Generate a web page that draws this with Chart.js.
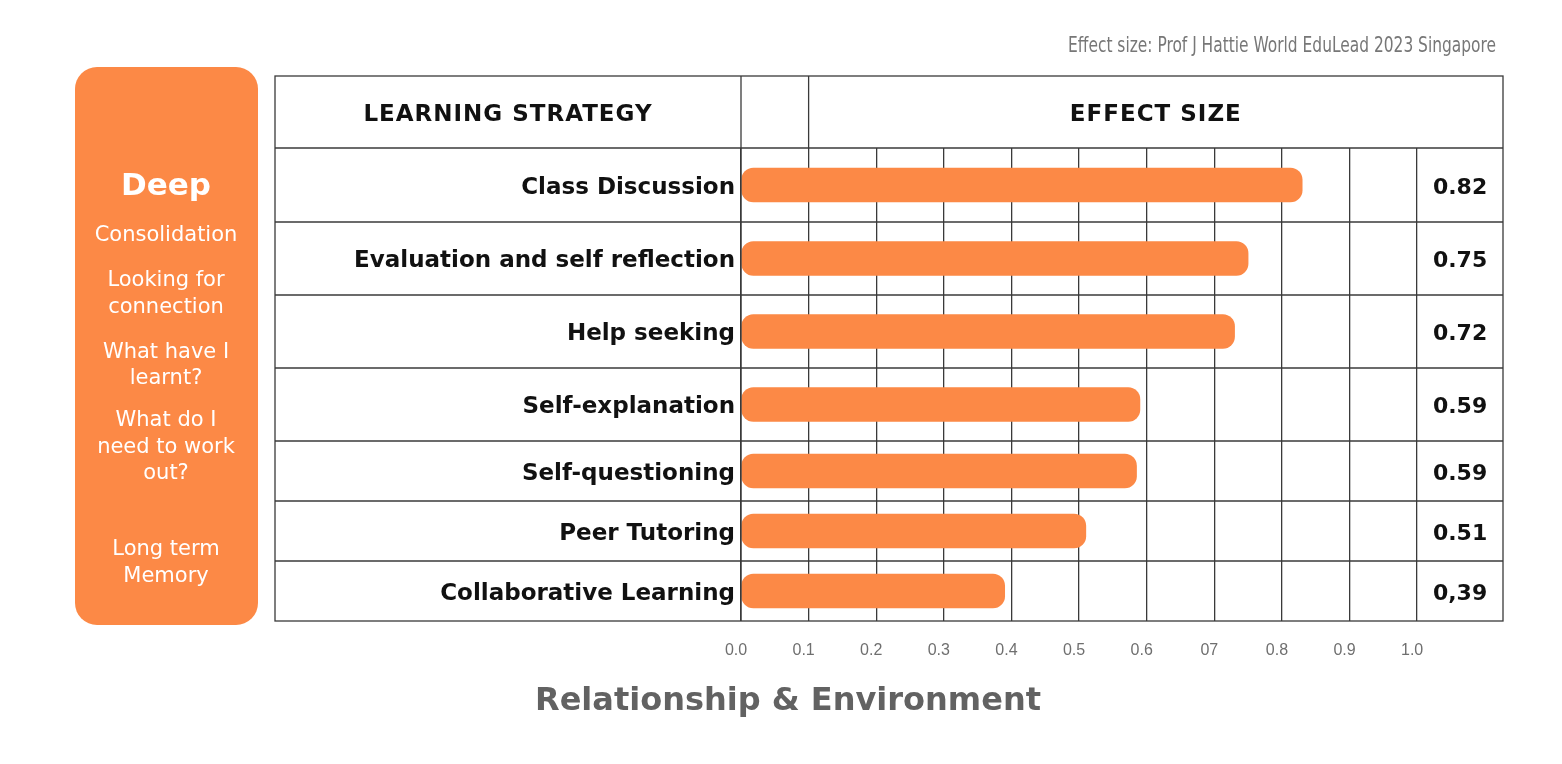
<!DOCTYPE html>
<html>
<head>
<meta charset="utf-8">
<title>Relationship &amp; Environment - effect sizes</title>
<script src="https://cdn.jsdelivr.net/npm/chart.js@4.4.1/dist/chart.umd.min.js"></script>
<style>
  html, body { margin: 0; padding: 0; background: #fff; }
  canvas { display: block; }
</style>
</head>
<body>
<canvas id="chart" width="1562" height="764"></canvas>
<script>
(function () {

    // data
    const strategies = [
        'Class Discussion',
        'Evaluation and self reflection',
        'Help seeking',
        'Self-explanation',
        'Self-questioning',
        'Peer Tutoring',
        'Collaborative Learning'
    ];
    const barLengths = [0.83, 0.75, 0.73, 0.59, 0.585, 0.51, 0.39];
    const effectLabels = ['0.82', '0.75', '0.72', '0.59', '0.59', '0.51', '0,39'];
    const tickLabels = ['0.0', '0.1', '0.2', '0.3', '0.4', '0.5', '0.6', '07', '0.8', '0.9', '1.0'];
    const sideTitle = 'Deep';
    const sideNotes = ['Consolidation', 'Looking for', 'connection', 'What have I', 'learnt?',
        'What do I', 'need to work', 'out?', 'Long term', 'Memory'];
    const source = 'Effect size: Prof J Hattie World EduLead 2023 Singapore';
    const footer = 'Relationship & Environment';

    // layout / style
    const orange = '#FC8946';
    const ink = '#111';
    const lineColor = '#3a3a3a';
    const font = '"DejaVu Sans", "Open Sans", sans-serif';
    const rowHeights = [74, 73, 73, 73, 60, 60, 60];
    const table = { left: 275, top: 76 };
    const xMax = 1.127;

    // category scale whose rows are not all the same height
    class RowScale extends Chart.CategoryScale {
        rowEdge(i) {
            const total = rowHeights.reduce((a, b) => a + b, 0);
            let before = 0;
            for (let k = 0; k < i; k++) before += rowHeights[k];
            return this.top + before / total * this.height;
        }
        getPixelForValue(value) {
            if (typeof value !== 'number') value = this.parse(value);
            if (value === null || isNaN(value)) return NaN;
            return (this.rowEdge(value) + this.rowEdge(value + 1)) / 2;
        }
    }
    RowScale.id = 'rows';
    Chart.register(RowScale);

    function line(ctx, x1, y1, x2, y2) {
        ctx.beginPath();
        ctx.moveTo(x1, y1);
        ctx.lineTo(x2, y2);
        ctx.stroke();
    }

    const tablePlugin = {
        id: 'tableFrame',
        beforeDraw(chart) {
            const ctx = chart.ctx;
            ctx.save();

            // side panel
            ctx.fillStyle = orange;
            ctx.beginPath();
            ctx.roundRect(75, 67, 183, 558, 22);
            ctx.fill();

            ctx.fillStyle = '#fff';
            ctx.textAlign = 'center';
            ctx.textBaseline = 'middle';
            ctx.font = 'bold 31px ' + font;
            ctx.fillText(sideTitle, 166, 187);
            ctx.font = '21px ' + font;
            const noteY = [236, 281, 308, 353, 379, 421, 448, 474, 550, 577];
            sideNotes.forEach((t, i) => ctx.fillText(t, 166, noteY[i], 172));

            // source note
            ctx.fillStyle = '#777';
            ctx.textAlign = 'right';
            ctx.font = '21px "Liberation Sans Narrow", "DejaVu Sans Condensed", sans-serif';
            ctx.fillText(source, 1496, 47, 428);

            // footer
            ctx.fillStyle = '#626262';
            ctx.textAlign = 'center';
            ctx.font = 'bold 32px ' + font;
            ctx.fillText(footer, 788, 702);

            ctx.restore();
        },
        afterDatasetsDraw(chart) {
            const ctx = chart.ctx;
            const area = chart.chartArea;
            const x = chart.scales.x;
            const y = chart.scales.y;
            ctx.save();
            ctx.strokeStyle = lineColor;
            ctx.lineWidth = 1.3;

            // outer frame and header
            ctx.strokeRect(table.left, table.top, area.right - table.left, area.bottom - table.top);
            line(ctx, table.left, area.top, area.right, area.top);
            line(ctx, area.left, table.top, area.left, area.bottom);
            line(ctx, x.getPixelForValue(0.1), table.top, x.getPixelForValue(0.1), area.top);

            // row separators
            for (let i = 1; i < strategies.length; i++) {
                const yy = y.rowEdge(i);
                line(ctx, table.left, yy, area.right, yy);
            }

            ctx.fillStyle = ink;
            ctx.textBaseline = 'middle';
            ctx.textAlign = 'center';
            ctx.font = 'bold 23px ' + font;
            ctx.letterSpacing = '1px';
            const headY = (table.top + area.top) / 2 + 3;
            ctx.fillText('LEARNING STRATEGY', (table.left + area.left) / 2, headY);
            ctx.fillText('EFFECT SIZE', (x.getPixelForValue(0.1) + area.right) / 2, headY);
            ctx.letterSpacing = '0px';

            // effect size column
            const colX = (x.getPixelForValue(1) + area.right) / 2;
            ctx.font = 'bold 22px ' + font;
            effectLabels.forEach((t, i) => ctx.fillText(t, colX, y.getPixelForValue(i) + 3));

            ctx.restore();
        }
    };

    function render(canvasId) {
        const ctx = document.getElementById(canvasId).getContext('2d');

        return new Chart(ctx, {
            type: 'bar',
            data: {
                labels: strategies,
                datasets: [{
                    data: barLengths,
                    backgroundColor: orange,
                    borderRadius: 12,
                    borderSkipped: false,
                    barThickness: 34
                }]
            },
            options: {
                indexAxis: 'y',
                responsive: false,
                animation: false,
                layout: { padding: { left: table.left, top: 148, right: 59, bottom: 103 } },
                plugins: {
                    legend: { display: false },
                    tooltip: { enabled: false }
                },
                scales: {
                    x: {
                        min: 0,
                        max: xMax,
                        afterBuildTicks: s => { s.ticks = s.ticks.filter(t => t.value <= 1.0001); },
                        afterFit: s => { s.height = 40; },
                        grid: { color: lineColor, lineWidth: 1.3, drawTicks: false },
                        border: { display: false },
                        ticks: {
                            stepSize: 0.1,
                            padding: 20,
                            labelOffset: -5,
                            color: '#6f6f6f',
                            font: { family: '"Liberation Sans", Arial, sans-serif', size: 16 },
                            callback: (v, i) => tickLabels[i]
                        }
                    },
                    y: {
                        type: 'rows',
                        afterFit: s => { s.width = 466; },
                        grid: { display: false, drawTicks: false },
                        border: { display: false },
                        ticks: {
                            autoSkip: false,
                            padding: 6,
                            labelOffset: 3,
                            color: ink,
                            font: { family: font, size: 23, weight: 'bold' }
                        }
                    }
                }
            },
            plugins: [tablePlugin]
        });
    }

    render('chart');
})();
</script>
</body>
</html>
